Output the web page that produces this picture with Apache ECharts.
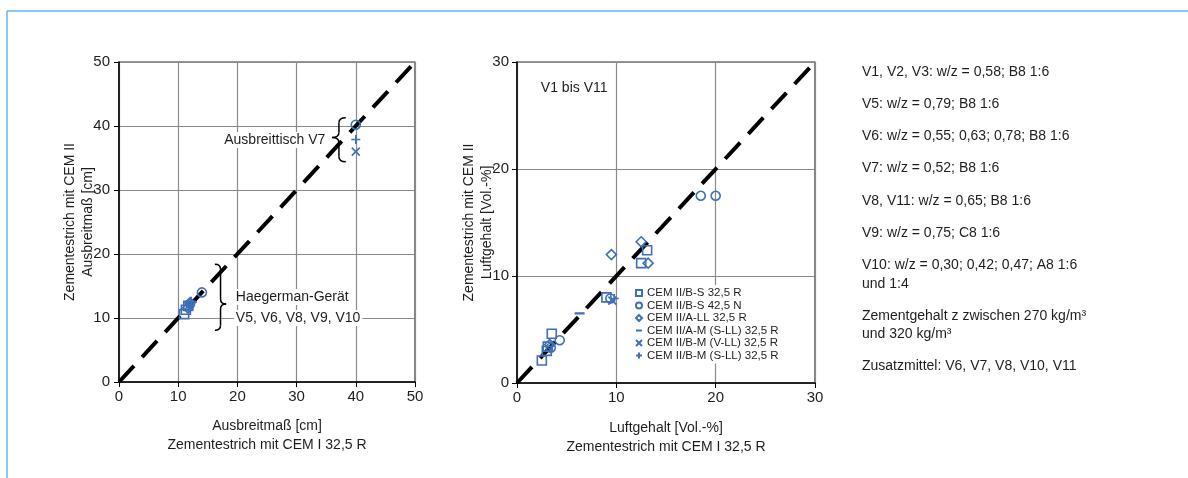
<!DOCTYPE html>
<html><head><meta charset="utf-8">
<script src="https://cdn.jsdelivr.net/npm/echarts@6/dist/echarts.min.js"></script>
<style>html,body{margin:0;padding:0;background:#fff}#c{width:1188px;height:478px}</style>
</head><body><div id="c"></div>
<script>
const FONT = '"Liberation Sans", Arial, Helvetica, sans-serif';
const BLUE = '#3f6fb6';
const INK = '#1e1e1e';

// cement types (legend)
const cements = ['CEM II/B-S 32,5 R', 'CEM II/B-S 42,5 N', 'CEM II/A-LL 32,5 R',
  'CEM II/A-M (S-LL) 32,5 R', 'CEM II/B-M (V-LL) 32,5 R', 'CEM II/B-M (S-LL) 32,5 R'];

// Ausbreitmaß [cm]: [CEM I 32,5 R, CEM II]
const flowSquare  = [[11.0, 10.6], [11.3, 11.3], [11.7, 11.9]];
const flowCircle  = [[14.0, 14.0], [12.0, 12.2], [40.0, 40.2]];
const flowDiamond = [[12.0, 12.4], [11.6, 11.6]];
const flowDash    = [[12.3, 12.5]];
const flowCross   = [[11.8, 12.0], [40.0, 36.0]];
const flowPlus    = [[12.2, 12.6], [40.0, 37.9]];

// Luftgehalt [Vol.-%]: [CEM I 32,5 R, CEM II]
const airSquare  = [[2.5, 2.1], [3.5, 4.6], [3.1, 3.4], [3.0, 3.0], [9.0, 8.0], [13.1, 12.4], [12.5, 11.2]];
const airCircle  = [[4.3, 4.0], [3.4, 3.3], [9.4, 7.9], [18.5, 17.5], [20.0, 17.5]];
const airDiamond = [[9.5, 12.0], [12.5, 13.2], [13.2, 11.2], [3.3, 3.6]];
const airDash    = [[6.3, 6.5]];
const airCross   = [[9.6, 7.7]];
const airPlus    = [[9.8, 7.9]];

// axis ranges and ticks
const flowMax = 50, airMax = 30, tickStep = 10;
const flowDiag = [[0, 0], [flowMax, flowMax]];
const airDiag  = [[0, 0], [airMax, airMax]];

// side notes
const notes = [
  ['V1, V2, V3: w/z = 0,58; B8 1:6'],
  ['V5: w/z = 0,79; B8 1:6'],
  ['V6: w/z = 0,55; 0,63; 0,78; B8 1:6'],
  ['V7: w/z = 0,52; B8 1:6'],
  ['V8, V11: w/z = 0,65; B8 1:6'],
  ['V9: w/z = 0,75; C8 1:6'],
  ['V10: w/z = 0,30; 0,42; 0,47; A8 1:6', 'und 1:4'],
  ['Zementgehalt z zwischen 270 kg/m³', 'und 320 kg/m³'],
  ['Zusatzmittel: V6, V7, V8, V10, V11']
];

// marker shapes; the dash is a stroked horizontal line kept centred in a square box
const symbols = [
  { symbol: 'rect', size: 9 },
  { symbol: 'circle', size: 9 },
  { symbol: 'diamond', size: 10 },
  { symbol: 'path://M0,0L0,0.01M0,5L10,5M10,10L10,10.01', size: 10, width: 2.2 },
  { symbol: 'path://M0,0L10,10M10,0L0,10', size: 8 },
  { symbol: 'path://M5,0L5,10M0,5L10,5', size: 9 }
];

function scatter(idx, name, data, k) {
  const s = symbols[k];
  return {
    type: 'scatter', name, data, xAxisIndex: idx, yAxisIndex: idx,
    symbol: s.symbol, symbolSize: s.size, z: 5,
    itemStyle: { color: 'transparent', borderColor: BLUE, borderWidth: s.width || 1.6, opacity: 1 },
    emphasis: { disabled: true }
  };
}

function diag(idx, data) {
  return {
    type: 'line', data, xAxisIndex: idx, yAxisIndex: idx, symbol: 'none', silent: true, z: 3,
    lineStyle: { color: '#000', width: 4, type: [22, 12] }
  };
}

function axis(idx, max, name, gap, isY, labelMargin) {
  return {
    gridIndex: idx, type: 'value', min: 0, max, interval: tickStep,
    name, nameLocation: 'middle', nameGap: gap, nameRotate: isY ? 90 : 0,
    nameMoveOverlap: false,
    nameTextStyle: { fontFamily: FONT, fontSize: 14, color: INK, lineHeight: isY ? 18 : 19 },
    axisLine: { show: true, onZero: false, lineStyle: { color: '#000', width: 1.5 } },
    axisTick: { show: true, length: 5, lineStyle: { color: '#000', width: 1 } },
    axisLabel: { fontFamily: FONT, fontSize: 15, color: INK, margin: labelMargin },
    splitLine: { show: true, lineStyle: { color: '#8a8a8a', width: 1.2 } }
  };
}

const chart = echarts.init(document.getElementById('c'), null, { renderer: 'canvas' });

const flowSets = [flowSquare, flowCircle, flowDiamond, flowDash, flowCross, flowPlus];
const airSets = [airSquare, airCircle, airDiamond, airDash, airCross, airPlus];

chart.setOption({
  animation: false,
  backgroundColor: '#fff',
  textStyle: { fontFamily: FONT },
  grid: [
    { left: 119, top: 62, width: 296, height: 320, show: true, borderColor: '#333', borderWidth: 1.2 },
    { left: 517, top: 62, width: 298, height: 321, show: true, borderColor: '#333', borderWidth: 1.2 }
  ],
  xAxis: [
    axis(0, flowMax, 'Ausbreitmaß [cm]\nZementestrich mit CEM I 32,5 R', 35, false, 7),
    axis(1, airMax, 'Luftgehalt [Vol.-%]\nZementestrich mit CEM I 32,5 R', 36, false, 7)
  ],
  yAxis: [
    axis(0, flowMax, 'Zementestrich mit CEM II\nAusbreitmaß [cm]', 22, true, 9),
    axis(1, airMax, 'Zementestrich mit CEM II\nLuftgehalt [Vol.-%]', 21, true, 8)
  ],
  legend: {
    data: cements, orient: 'vertical', left: 633, top: 285,
    itemWidth: 6, itemHeight: 6, itemGap: 0.5, padding: [2, 4, 2, 2],
    backgroundColor: '#fff', selectedMode: false,
    textStyle: { fontFamily: FONT, fontSize: 11.5, color: INK, lineHeight: 10.2 }
  },
  series: [
    diag(0, flowDiag), diag(1, airDiag),
    ...flowSets.map((d, k) => scatter(0, cements[k], d, k)),
    ...airSets.map((d, k) => scatter(1, cements[k], d, k))
  ]
});

// annotations positioned in data coordinates
function px(idx, p) { return chart.convertToPixel({ gridIndex: idx }, p); }

// curly brace built from quadratic curves and straight strokes
function brace(idx, xEnd, xTip, yTop, yMid, yBot) {
  const a = px(idx, [xEnd, yTop]), b = px(idx, [xTip, yMid]), c = px(idx, [xEnd, yBot]);
  const xe = a[0], xt = b[0], xm = (xe + xt) / 2, yt = a[1], ym = b[1], yb = c[1], q = 5;
  const style = { stroke: '#000', lineWidth: 1.5, fill: null };
  const curve = (x1, y1, cx, cy, x2, y2) =>
    ({ type: 'bezierCurve', silent: true, z: 10, shape: { x1, y1, x2, y2, cpx1: cx, cpy1: cy }, style });
  const seg = (x1, y1, x2, y2) =>
    ({ type: 'line', silent: true, z: 10, shape: { x1, y1, x2, y2 }, style });
  return [
    curve(xe, yt, xm, yt, xm, yt + q),
    seg(xm, yt + q, xm, ym - q),
    curve(xm, ym - q, xm, ym, xt, ym),
    curve(xt, ym, xm, ym, xm, ym + q),
    seg(xm, ym + q, xm, yb - q),
    curve(xm, yb - q, xm, yb, xe, yb)
  ];
}

function label(idx, text, at, align) {
  const p = px(idx, at);
  return { type: 'text', z: 10, silent: true, x: p[0], y: p[1],
    style: { text, fontFamily: FONT, fontSize: 14, fill: INK, align, verticalAlign: 'middle',
      backgroundColor: '#fff', padding: [1, 2] } };
}

const graphic = [
  { type: 'line', silent: true, shape: { x1: 7, y1: 11, x2: 1188, y2: 11 }, style: { stroke: '#66b5e8', lineWidth: 1.5 } },
  { type: 'line', silent: true, shape: { x1: 7, y1: 11, x2: 7, y2: 478 }, style: { stroke: '#66b5e8', lineWidth: 1.5 } },
  label(0, 'Ausbreittisch V7', [35.2, 37.8], 'right'),
  ...brace(0, 38.3, 36.0, 41.3, 38.2, 34.4),
  ...brace(0, 16.2, 18.1, 18.4, 12.2, 8.1),
  label(0, 'Haegerman-Gerät', [19.4, 13.3], 'left'),
  label(0, 'V5, V6, V8, V9, V10', [19.4, 10.0], 'left'),
  label(1, 'V1 bis V11', [2.2, 27.6], 'left')
];

let y = 72;
notes.forEach(lines => {
  lines.forEach((t, i) => {
    graphic.push({ type: 'text', silent: true, x: 862, y: y + i * 18.5,
      style: { text: t, fontFamily: FONT, fontSize: 14, fill: INK, verticalAlign: 'middle' } });
  });
  y += (lines.length - 1) * 18.5 + 32.2;
});

chart.setOption({ graphic });
</script>
</body></html>
